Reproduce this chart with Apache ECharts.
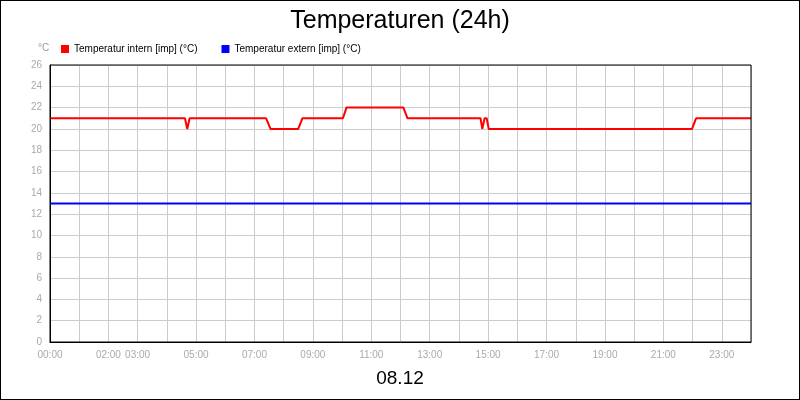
<!DOCTYPE html>
<html><head><meta charset="utf-8">
<script src="https://cdn.jsdelivr.net/npm/echarts@6/dist/echarts.min.js"></script>
<style>html,body{margin:0;padding:0;}#c{width:798px;height:398px;border:1px solid #000;}</style>
</head><body><div id="c"></div>
<script>
const tickLabels = {0:'00:00',2:'02:00',3:'03:00',5:'05:00',7:'07:00',9:'09:00',11:'11:00',13:'13:00',15:'15:00',17:'17:00',19:'19:00',21:'21:00',23:'23:00'};
const internHours = [0,4.62,4.70,4.78,7.40,7.55,8.50,8.64,10.03,10.15,12.10,12.24,14.66,14.74,14.80,14.88,14.95,15.02,21.98,22.12,24];
const internTemps = [21,21,20,21,21,20,20,21,21,22,22,21,21,21,20,21,21,20,20,21,21];
const externHours = [0,24];
const externTemps = [13,13];
const zip=(a,b)=>a.map((v,i)=>[v,b[i]]);
const F='Liberation Sans';
const chart = echarts.init(document.getElementById('c'));
chart.setOption({
  animation:false,
  backgroundColor:'#fff',
  title:{text:'Temperaturen (24h)',left:'center',top:3,textStyle:{fontFamily:F,fontSize:25,fontWeight:'normal',color:'#000'}},
  legend:{left:55,top:38,itemWidth:8,itemHeight:8,itemGap:24,icon:'rect',textStyle:{fontSize:10,fontFamily:F,color:'#000'},
    data:['Temperatur intern [imp] (°C)','Temperatur extern [imp] (°C)']},
  graphic:[
    {type:'text',left:37,top:42,style:{text:'°C',fontSize:10,fill:'#999',fontFamily:F}},
    {type:'text',left:'center',top:368,style:{text:'08.12',fontSize:19,fill:'#000',fontFamily:F}}
  ],
  grid:{left:49,right:48,top:64,bottom:57,show:true,borderColor:'#000',borderWidth:1,z:10},
  xAxis:{type:'value',min:0,max:24,interval:1,
    axisLine:{show:true,lineStyle:{color:'#000'}},axisTick:{show:false},
    splitLine:{lineStyle:{color:'#ccc'}},
    axisLabel:{color:'#aaa',fontSize:10,fontFamily:F,formatter:v=>tickLabels[v]||''}},
  yAxis:{type:'value',min:0,max:26,interval:2,
    axisLine:{show:true,lineStyle:{color:'#000'}},axisTick:{show:false},
    splitLine:{lineStyle:{color:'#ccc'}},
    axisLabel:{color:'#aaa',fontSize:10,fontFamily:F}},
  series:[
    {name:'Temperatur intern [imp] (°C)',type:'line',showSymbol:false,data:zip(internHours,internTemps),lineStyle:{color:'#ff0000',width:2},itemStyle:{color:'#ff0000'}},
    {name:'Temperatur extern [imp] (°C)',type:'line',showSymbol:false,data:zip(externHours,externTemps),lineStyle:{color:'#0000ff',width:2},itemStyle:{color:'#0000ff'}}
  ]
});
</script></body></html>
